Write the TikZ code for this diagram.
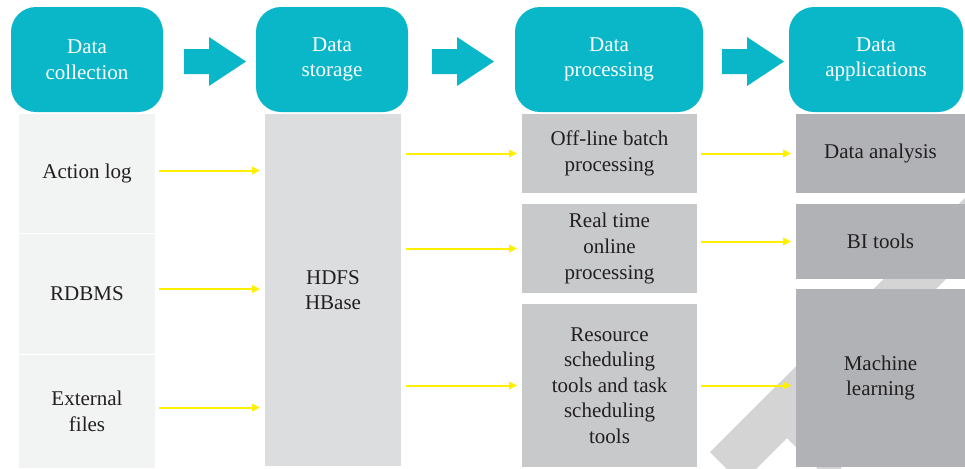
\documentclass[tikz,border=0pt]{standalone}
\usepackage{fontspec}
\setmainfont{Liberation Serif}
\usepackage{tikz}
\usetikzlibrary{arrows.meta}

\definecolor{stagec}{HTML}{0AB7C9}
\definecolor{srcc}{HTML}{F2F3F3}
\definecolor{storec}{HTML}{DCDDDF}
\definecolor{procc}{HTML}{C8C9CB}
\definecolor{appc}{HTML}{B1B2B6}
\definecolor{bandc}{HTML}{D4D4D5}
\definecolor{flowc}{HTML}{FFF000}
\definecolor{txtc}{HTML}{231F20}

\tikzset{
  stage/.style={fill=stagec, rounded corners=12.5pt, text=white, align=center,
    inner sep=0pt, outer sep=0pt, minimum height=52.5pt,
    font=\fontsize{10.5}{12.8}\selectfont},
  block/.style={inner sep=0pt, outer sep=0pt, align=center, text=txtc,
    font=\fontsize{10.5}{12.8}\selectfont},
  flow/.style={draw=flowc, line width=1pt,
    -{Triangle[length=4pt,width=3.8pt]}},
}

\begin{document}
\begin{tikzpicture}[x=0.5pt,y=-0.5pt]
        \useasboundingbox (0,0) rectangle (965,468);
        \clip (0,0) rectangle (965,468);
        % background band
        \fill[bandc] (710,452) -- (1010,153) -- (1072,153) -- (755,470)
          -- (728,470) -- cycle;
        \fill[bandc] (787,438) -- (830,481) -- (900,400) -- (830,395) -- cycle;
        % Stages
        \node[stage, minimum width=76pt] (coll) at (87,59.5) {Data\\collection};
        \node[stage, minimum width=76pt] (stor) at (332,59.5) {Data\\storage};
        \node[stage, minimum width=94pt] (proc) at (609,59.5) {Data\\processing};
        \node[stage, minimum width=87pt] (appl) at (876,59.5) {Data\\applications};
        \foreach \x in {184,432,722}
          \fill[stagec] (\x,49) -- ++(25,0) -- ++(0,-12) -- ++(37,24.5)
            -- ++(-37,24.5) -- ++(0,-12) -- ++(-25,0) -- cycle;
        % Sources
        \node[block, fill=srcc, minimum width=68pt, minimum height=59.5pt] (act) at (87,173.5) {Action log};
        \node[block, fill=srcc, minimum width=68pt, minimum height=60pt] (rdb) at (87,294) {RDBMS};
        \node[block, fill=srcc, minimum width=68pt, minimum height=56.5pt] (ext) at (87,411.5) {External\\files};
        % Storage
        \node[block, fill=storec, minimum width=68pt, minimum height=176pt] (hd) at (333,290) {HDFS\\HBase};
        % Processing
        \node[block, fill=procc, minimum width=87.5pt, minimum height=39.5pt] (batch) at (609.5,153.5) {Off-line batch\\processing};
        \node[block, fill=procc, minimum width=87.5pt, minimum height=44.5pt] (real) at (609.5,248.5) {Real time\\online\\processing};
        \node[block, fill=procc, minimum width=87.5pt, minimum height=81.5pt] (res) at (609.5,385.5) {Resource\\scheduling\\tools and task\\scheduling\\tools};
        % Applications
        \node[block, fill=appc, minimum width=84.5pt, minimum height=39.5pt] (ana) at (880.5,153.5) {Data analysis};
        \node[block, fill=appc, minimum width=84.5pt, minimum height=37.5pt] (bi) at (880.5,241.5) {BI tools};
        \node[block, fill=appc, minimum width=84.5pt, minimum height=89pt] (ml) at (880.5,378) {Machine\\learning};
        % Flows
        \draw[flow] ([xshift=2pt,yshift=1.5pt]act.east) -- ([xshift=-2.5pt,yshift=1.5pt]act.east -| hd.west);
        \draw[flow] ([xshift=2pt,yshift=2.5pt]rdb.east) -- ([xshift=-2.5pt,yshift=2.5pt]rdb.east -| hd.west);
        \draw[flow] ([xshift=2pt,yshift=2pt]ext.east) -- ([xshift=-2.5pt,yshift=2pt]ext.east -| hd.west);
        \draw[flow] ([xshift=2.5pt]batch.west -| hd.east) -- ([xshift=-2.5pt]batch.west);
        \draw[flow] ([xshift=2.5pt]real.west -| hd.east) -- ([xshift=-2.5pt]real.west);
        \draw[flow] ([xshift=2.5pt]res.west -| hd.east) -- ([xshift=-2.5pt]res.west);
        \draw[flow] ([xshift=2pt]batch.east) -- ([xshift=-2.5pt]batch.east -| ana.west);
        \draw[flow] ([xshift=2pt]bi.west -| real.east) -- ([xshift=-2.5pt]bi.west);
        \draw[flow] ([xshift=2pt]res.east) -- ([xshift=-2.5pt]res.east -| ml.west);
      \end{tikzpicture}
\end{document}
